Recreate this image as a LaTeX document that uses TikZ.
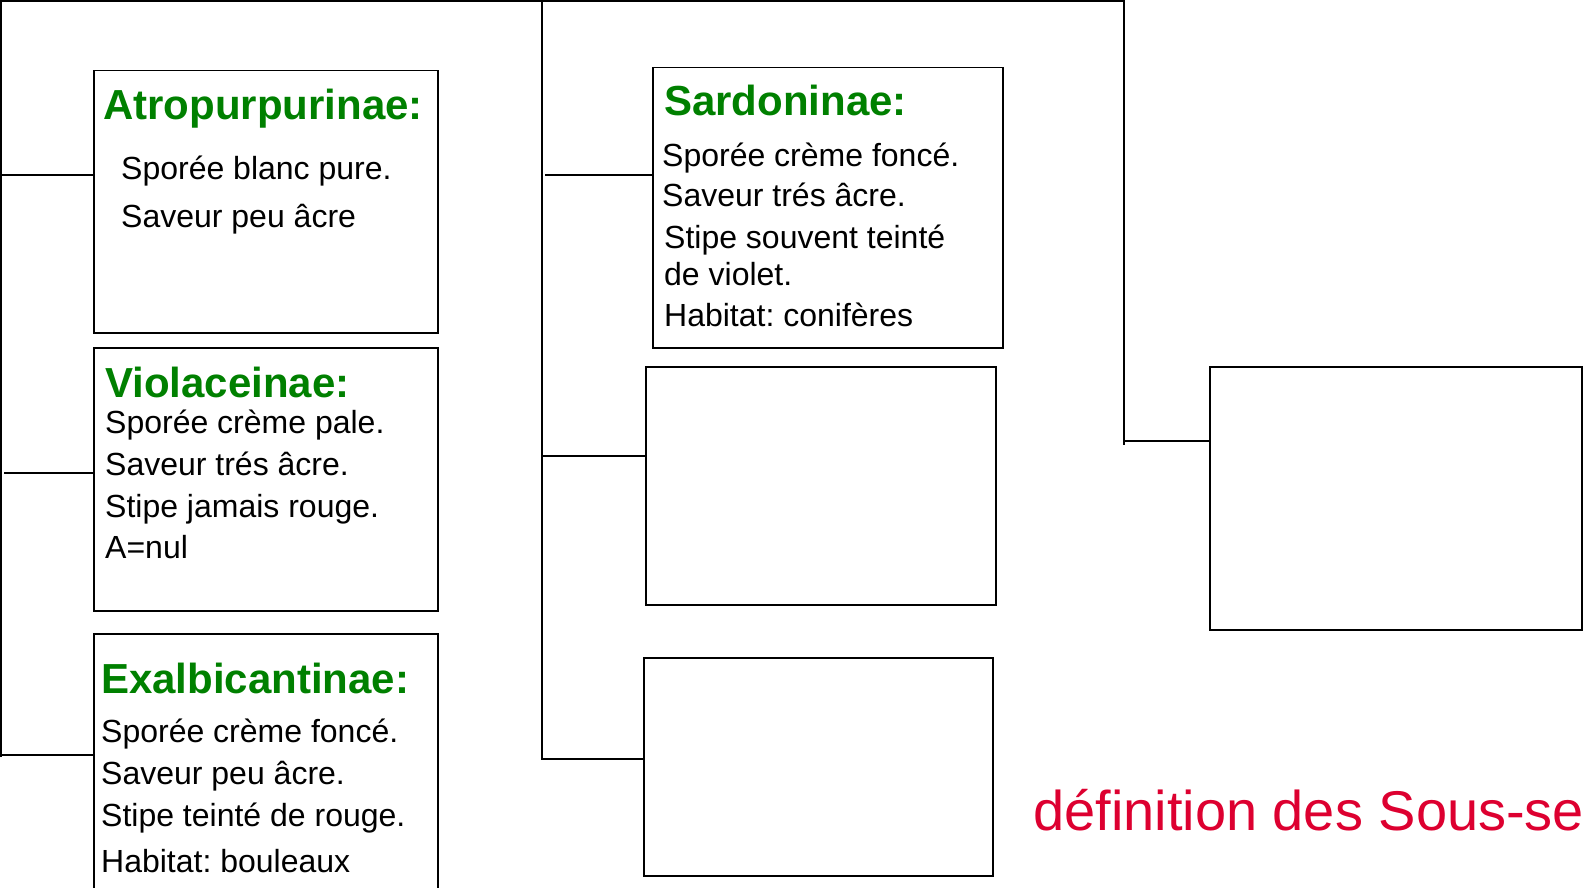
\documentclass[tikz,border=0pt]{standalone}
\usepackage{fontspec}
\setmainfont{Liberation Sans}
\frenchspacing
\definecolor{vertsect}{RGB}{0,128,0}
\definecolor{rougetitre}{RGB}{221,0,48}
\tikzset{
	boite/.style = {draw, line width=1.5pt, anchor=north west, inner sep=0pt},
	titre/.style = {anchor=base west, inner sep=0pt, text=vertsect, font=\fontsize{42}{50}\selectfont\bfseries},
	ligne/.style = {anchor=base west, inner sep=0pt, font=\fontsize{32}{40}\selectfont},
	trait/.style = {line width=1.5pt}
}
\begin{document}
\begin{tikzpicture}[x = 1pt,y = -1pt]
	\clip (0,0) rectangle (1583,888);
	\fill[white] (0,0) rectangle (1583,888);
	\draw[trait] (1,757) -- (1,1) -- (1124,1) -- (1124,445);
	\draw[trait] (542,1) -- (542,760);
	\node[boite, minimum width=344pt, minimum height=262pt] (atro) at (93,70) {};
	\node[boite, minimum width=344pt, minimum height=263pt] (viol) at (93,347) {};
	\node[boite, minimum width=344pt, minimum height=300pt] (exal) at (93,633) {};
	\node[boite, minimum width=350pt, minimum height=280pt] (sard) at (652,67) {};
	\node[boite, minimum width=350pt, minimum height=238pt] (vide1) at (645,366) {};
	\node[boite, minimum width=349pt, minimum height=218pt] (vide2) at (643,657) {};
	\node[boite, minimum width=372pt, minimum height=263pt] (vide3) at (1209,366) {};
	\coordinate (gA) at (1,175);
	\coordinate (gV) at (4,473);
	\coordinate (gE) at (1,755);
	\coordinate (mS) at (545,175);
	\coordinate (m1) at (542,456);
	\coordinate (m2) at (542,759);
	\coordinate (dR) at (1124,441);
	\draw[trait] (gA) -- (gA -| atro.west);
	\draw[trait] (gV) -- (gV -| viol.west);
	\draw[trait] (gE) -- (gE -| exal.west);
	\draw[trait] (mS) -- (mS -| sard.west);
	\draw[trait] (m1) -- (m1 -| vide1.west);
	\draw[trait] (m2) -- (m2 -| vide2.west);
	\draw[trait] (dR) -- (dR -| vide3.west);
	\node[titre] (tA) at (103,120) {Atropurpurinae:};
	\node[ligne] (a1) at (121,179) {Sporée blanc pure.};
	\node[ligne] (a2) at (121,227) {Saveur peu âcre};
	\node[titre] (tV) at (105,397) {Violaceinae:};
	\node[ligne] (v1) at (105,433) {Sporée crème pale.};
	\node[ligne] (v2) at (105,475) {Saveur trés âcre.};
	\node[ligne] (v3) at (105,517) {Stipe jamais rouge.};
	\node[ligne] (v4) at (105,558) {A=nul};
	\node[titre] (tE) at (101,693) {Exalbicantinae:};
	\node[ligne] (e1) at (101,742) {Sporée crème foncé.};
	\node[ligne] (e2) at (101,784) {Saveur peu âcre.};
	\node[ligne] (e3) at (101,826) {Stipe teinté de rouge.};
	\node[ligne] (e4) at (101,872) {Habitat: bouleaux};
	\node[titre] (tS) at (664,116) {Sardoninae:};
	\node[ligne] (s1) at (662,167) {Sporée crème foncé.};
	\node[ligne] (s2) at (662,207) {Saveur trés âcre.};
	\node[ligne] (s3) at (664,248) {Stipe souvent teinté};
	\node[ligne] (s4) at (664,285) {de violet.};
	\node[ligne] (s5) at (664,326) {Habitat: conifères};
	\node[anchor=base west, inner sep=0pt, text=rougetitre, font=\fontsize{56}{64}\selectfont] (def) at (1033,830) {définition des Sous-se};
\end{tikzpicture}
\end{document}
